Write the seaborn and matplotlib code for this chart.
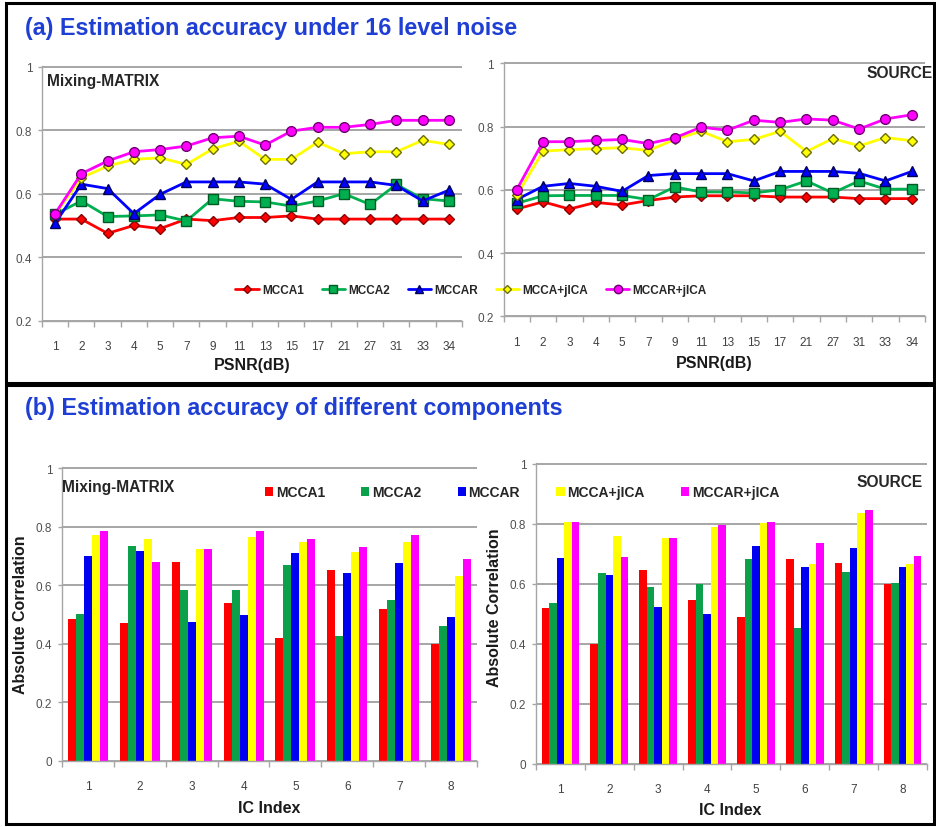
import matplotlib
matplotlib.use("Agg")
import numpy as np
import pandas as pd
import seaborn as sns
import matplotlib.pyplot as plt
from matplotlib.patches import Rectangle

# ---------------- data ----------------
methods = ["MCCA1", "MCCA2", "MCCAR", "MCCA+jICA", "MCCAR+jICA"]
psnr_labels = ["1", "2", "3", "4", "5", "7", "9", "11", "13", "15",
               "17", "21", "27", "31", "33", "34"]
ic_labels = ["1", "2", "3", "4", "5", "6", "7", "8"]

# (a) accuracy vs PSNR, mixing matrix
mm_mcca1 = [0.520, 0.520, 0.475, 0.500, 0.490, 0.520, 0.515, 0.525,
            0.525, 0.530, 0.520, 0.520, 0.520, 0.520, 0.520, 0.520]
mm_mcca2 = [0.535, 0.577, 0.528, 0.530, 0.533, 0.514, 0.584, 0.576,
            0.574, 0.561, 0.577, 0.600, 0.566, 0.629, 0.584, 0.577]
mm_mccar = [0.507, 0.630, 0.616, 0.537, 0.598, 0.637, 0.637, 0.637,
            0.630, 0.582, 0.637, 0.637, 0.637, 0.626, 0.577, 0.611]
mm_mcca_jica = [0.535, 0.650, 0.687, 0.708, 0.713, 0.692, 0.741, 0.765,
                0.708, 0.708, 0.762, 0.726, 0.732, 0.732, 0.768, 0.755]
mm_mccar_jica = [0.537, 0.663, 0.703, 0.732, 0.739, 0.750, 0.776, 0.781,
                 0.753, 0.797, 0.809, 0.809, 0.818, 0.831, 0.831, 0.831]

# (a) accuracy vs PSNR, sources
src_mcca1 = [0.539, 0.562, 0.539, 0.560, 0.552, 0.566, 0.577, 0.581,
             0.581, 0.581, 0.577, 0.577, 0.577, 0.572, 0.572, 0.572]
src_mcca2 = [0.557, 0.581, 0.582, 0.582, 0.582, 0.569, 0.609, 0.593,
             0.593, 0.590, 0.600, 0.628, 0.590, 0.628, 0.602, 0.602]
src_mccar = [0.569, 0.611, 0.620, 0.611, 0.595, 0.645, 0.651, 0.651,
             0.651, 0.628, 0.658, 0.658, 0.658, 0.652, 0.628, 0.658]
src_mcca_jica = [0.582, 0.722, 0.727, 0.730, 0.733, 0.724, 0.759, 0.785,
                 0.752, 0.759, 0.785, 0.721, 0.762, 0.739, 0.765, 0.755]
src_mccar_jica = [0.600, 0.752, 0.752, 0.756, 0.759, 0.746, 0.764, 0.798,
                  0.788, 0.820, 0.813, 0.824, 0.820, 0.792, 0.824, 0.837]

# (b) accuracy per component, mixing matrix
bar_mm_mcca1 = [0.485, 0.472, 0.678, 0.540, 0.420, 0.653, 0.517, 0.398]
bar_mm_mcca2 = [0.503, 0.735, 0.582, 0.583, 0.670, 0.426, 0.551, 0.460]
bar_mm_mccar = [0.699, 0.718, 0.474, 0.497, 0.710, 0.640, 0.676, 0.492]
bar_mm_mcca_jica = [0.770, 0.758, 0.724, 0.765, 0.747, 0.714, 0.747, 0.632]
bar_mm_mccar_jica = [0.784, 0.678, 0.724, 0.784, 0.758, 0.730, 0.773, 0.689]

# (b) accuracy per component, sources
bar_src_mcca1 = [0.520, 0.399, 0.648, 0.548, 0.489, 0.682, 0.671, 0.600]
bar_src_mcca2 = [0.537, 0.637, 0.590, 0.600, 0.684, 0.452, 0.639, 0.602]
bar_src_mccar = [0.687, 0.631, 0.524, 0.500, 0.727, 0.656, 0.720, 0.658]
bar_src_mcca_jica = [0.808, 0.761, 0.753, 0.789, 0.803, 0.667, 0.838, 0.667]
bar_src_mccar_jica = [0.808, 0.690, 0.753, 0.797, 0.806, 0.737, 0.847, 0.693]


def long_table(cats, key, series):
    rows = []
    for name, vals in zip(methods, series):
        for c, v in zip(cats, vals):
            rows.append({key: c, "method": name, "value": v})
    return pd.DataFrame(rows)


df_mm = long_table(psnr_labels, "psnr",
                   [mm_mcca1, mm_mcca2, mm_mccar, mm_mcca_jica, mm_mccar_jica])
df_src = long_table(psnr_labels, "psnr",
                    [src_mcca1, src_mcca2, src_mccar, src_mcca_jica, src_mccar_jica])
df_bar_mm = long_table(ic_labels, "ic",
                       [bar_mm_mcca1, bar_mm_mcca2, bar_mm_mccar,
                        bar_mm_mcca_jica, bar_mm_mccar_jica])
df_bar_src = long_table(ic_labels, "ic",
                        [bar_src_mcca1, bar_src_mcca2, bar_src_mccar,
                         bar_src_mcca_jica, bar_src_mccar_jica])

# ---------------- style ----------------
sns.set_theme(style="white")
plt.rcParams["font.family"] = ["Liberation Sans", "DejaVu Sans"]

line_colors = ["#ff0000", "#00b050", "#0000ff", "#ffff00", "#ff00ff"]
edge_colors = ["#8a0000", "#005a24", "#00005a", "#6e6e00", "#6e006e"]
bar_colors = ["#ff0000", "#0aa14a", "#0000f0", "#ffff00", "#ff00ff"]
line_markers = ["D", "s", "^", "D", "o"]
marker_sizes = [5, 6.5, 6.5, 5.5, 7]

W, H = 937, 828
fig = plt.figure(figsize=(W / 100, H / 100), dpi=100)


def px_axes(left, top, right, bottom):
    return fig.add_axes([left / W, 1 - bottom / H, (right - left) / W, (bottom - top) / H])


grid_gray = "#a6a6a6"


def style_axes(ax, n, ymin, ymax, ticks, labels, xpad):
    ax.set_xlim(-0.5, n - 0.5)
    ax.set_ylim(ymin, ymax)
    ax.set_yticks(ticks)
    ax.set_yticklabels(labels)
    ax.grid(axis="y", color=grid_gray, linewidth=1.4)
    ax.grid(axis="x", visible=False)
    ax.set_axisbelow(True)
    for s in ["top", "right"]:
        ax.spines[s].set_visible(False)
    for s in ["left", "bottom"]:
        ax.spines[s].set_color(grid_gray)
        ax.spines[s].set_linewidth(1.0)
    ax.tick_params(axis="y", which="major", left=True, length=3, width=1,
                   color=grid_gray, labelsize=8.5, labelcolor="#505050", pad=4)
    ax.tick_params(axis="x", which="major", bottom=False, labelsize=8.5,
                   labelcolor="#404040", pad=xpad)
    ax.set_xticks(np.arange(n + 1) - 0.5, minor=True)
    ax.tick_params(axis="x", which="minor", bottom=True, length=4, width=1,
                   color=grid_gray)
    ax.set_ylabel("")


def draw_lines(ax, df):
    sns.pointplot(data=df, x="psnr", y="value", hue="method", order=psnr_labels,
                  hue_order=methods, palette=line_colors, markers=line_markers,
                  linestyles="-", errorbar=None, dodge=False, linewidth=2.0,
                  ax=ax)
    series = [ln for ln in ax.lines if len(ln.get_xdata()) == len(psnr_labels)]
    for ln, ec, ms in zip(series, edge_colors, marker_sizes):
        ln.set_markeredgecolor(ec)
        ln.set_markeredgewidth(1.0)
        ln.set_markersize(ms)
    handles, labels = ax.get_legend_handles_labels()
    for h, ec, ms in zip(handles, edge_colors, marker_sizes):
        h.set_markeredgecolor(ec)
        h.set_markeredgewidth(1.0)
        h.set_markersize(ms - 1)
    if ax.get_legend() is not None:
        ax.get_legend().remove()
    return handles, labels


def draw_bars(ax, df):
    sns.barplot(data=df, x="ic", y="value", hue="method", order=ic_labels,
                hue_order=methods, palette=bar_colors, width=0.77, gap=0,
                errorbar=None, saturation=1, linewidth=0, ax=ax)
    handles, labels = ax.get_legend_handles_labels()
    if ax.get_legend() is not None:
        ax.get_legend().remove()
    return handles, labels


bold_lbl = dict(fontsize=11.5, fontweight="bold", color="#1a1a1a")
tag_lbl = dict(fontsize=11.2, fontweight="bold", color="#262626")

# ---- (a) left: mixing matrix ----
ax1 = px_axes(42, 66.7, 462, 321.7)
line_handles, line_labels = draw_lines(ax1, df_mm)
style_axes(ax1, len(psnr_labels), 0.2, 1.003, [0.2, 0.4, 0.6, 0.8, 1.0],
           ["0.2", "0.4", "0.6", "0.8", "1"], 8)
ax1.set_xlabel("PSNR(dB)", **bold_lbl)
ax1.xaxis.set_label_coords(0.501, -0.17)
ax1.xaxis.label.set_va("center")
ax1.text(0.012, 0.94, "Mixing-MATRIX", transform=ax1.transAxes, va="center",
         ha="left", **tag_lbl)

# ---- (a) right: sources ----
ax2 = px_axes(503.5, 63.3, 925, 317.3)
draw_lines(ax2, df_src)
style_axes(ax2, len(psnr_labels), 0.2, 1.003, [0.2, 0.4, 0.6, 0.8, 1.0],
           ["0.2", "0.4", "0.6", "0.8", "1"], 8)
ax2.set_xlabel("PSNR(dB)", **bold_lbl)
ax2.xaxis.set_label_coords(0.499, -0.18)
ax2.xaxis.label.set_va("center")
ax2.text(1.019, 0.96, "SOURCE", transform=ax2.transAxes, va="center",
         ha="right", **tag_lbl)

fig.legend(line_handles, line_labels, loc="center", ncol=5,
           bbox_to_anchor=(471 / W, 1 - 291 / H), frameon=False,
           prop=dict(size=8.5, weight="bold"), handlelength=2.0,
           handletextpad=0.25, columnspacing=1.5)

# ---- (b) left: mixing matrix ----
ax3 = px_axes(62, 468.3, 477, 761.7)
bar_handles, bar_labels = draw_bars(ax3, df_bar_mm)
style_axes(ax3, len(ic_labels), 0.0, 1.003, [0, 0.2, 0.4, 0.6, 0.8, 1.0],
           ["0", "0.2", "0.4", "0.6", "0.8", "1"], 8)
ax3.set_xlabel("IC Index", **bold_lbl)
ax3.xaxis.set_label_coords(0.499, -0.158)
ax3.xaxis.label.set_va("center")
ax3.set_ylabel("Absolute Correlation", **bold_lbl)
ax3.yaxis.set_label_coords(-0.101, 0.5)
ax3.yaxis.label.set_va("center")
ax3.text(0.0, 0.936, "Mixing-MATRIX", transform=ax3.transAxes, va="center",
         ha="left", **tag_lbl)

# ---- (b) right: sources ----
ax4 = px_axes(536, 464, 927, 765)
draw_bars(ax4, df_bar_src)
style_axes(ax4, len(ic_labels), 0.0, 1.003, [0, 0.2, 0.4, 0.6, 0.8, 1.0],
           ["0", "0.2", "0.4", "0.6", "0.8", "1"], 8)
ax4.set_xlabel("IC Index", **bold_lbl)
ax4.xaxis.set_label_coords(0.496, -0.15)
ax4.xaxis.label.set_va("center")
ax4.set_ylabel("Absolute Correlation", **bold_lbl)
ax4.yaxis.set_label_coords(-0.105, 0.523)
ax4.yaxis.label.set_va("center")
ax4.text(0.99, 0.94, "SOURCE", transform=ax4.transAxes, va="center",
         ha="right", **tag_lbl)

fig.legend(bar_handles, bar_labels, loc="center", ncol=5,
           bbox_to_anchor=(522 / W, 1 - 493 / H), frameon=False,
           prop=dict(size=10, weight="bold"), handlelength=0.6,
           handleheight=0.6, handletextpad=0.2, columnspacing=2.6)

# ---- panel titles and frames ----
title_kw = dict(fontsize=16.8, fontweight="bold", color="#1f3fd4", va="center",
                ha="left")
fig.text(25 / W, 1 - 28 / H, "(a) Estimation accuracy under 16 level noise", **title_kw)
fig.text(25 / W, 1 - 409 / H, "(b) Estimation accuracy of different components", **title_kw)

for (x0, y0, x1, y1) in [(6, 4, 934, 384), (6, 386, 934, 825)]:
    fig.add_artist(Rectangle((x0 / W, 1 - y1 / H), (x1 - x0) / W, (y1 - y0) / H,
                             transform=fig.transFigure, fill=False,
                             edgecolor="black", linewidth=2.2))

fig.savefig("out.png", dpi=100, facecolor="white")
